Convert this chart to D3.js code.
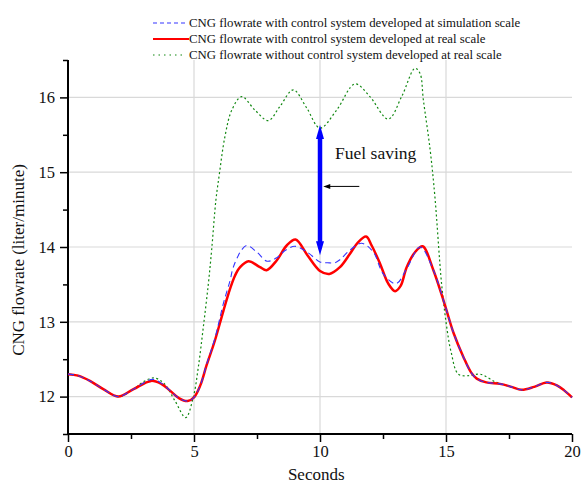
<!DOCTYPE html>
<html><head><meta charset="utf-8">
<script src="https://cdn.jsdelivr.net/npm/d3@7"></script>
<style>body{margin:0;background:#fff}svg{display:block}</style>
</head><body>
<script>
// ---- data ----
const seriesNames = [
  "CNG flowrate with control system developed at simulation scale",
  "CNG flowrate with control system developed at real scale",
  "CNG flowrate without control system developed at real scale"
];
const realT = [0,0.4,0.87,1.4,2.0,2.6,3.3,3.7,4.05,4.4,4.75,5.0,5.25,5.5,5.83,6.17,6.43,6.63,6.83,7.16,7.62,7.88,8.28,8.68,9.03,9.5,10.0,10.37,10.79,11.19,11.5,11.83,12.05,12.38,12.71,12.98,13.2,13.44,13.77,14.07,14.5,14.96,15.3,15.69,16.0,16.22,16.6,17.14,17.6,18.0,18.5,19.0,19.4,19.7,20];
const realV = [12.30,12.28,12.21,12.10,12.00,12.10,12.21,12.17,12.08,11.98,11.94,11.99,12.15,12.42,12.75,13.15,13.44,13.62,13.73,13.81,13.73,13.69,13.82,14.02,14.10,13.89,13.68,13.64,13.73,13.91,14.06,14.14,14.02,13.78,13.51,13.41,13.48,13.73,13.93,14.01,13.69,13.22,12.85,12.53,12.32,12.24,12.19,12.17,12.13,12.09,12.13,12.19,12.15,12.08,11.99];
const simT = [0,0.4,0.87,1.4,2.0,2.6,3.35,3.7,4.05,4.4,4.75,5.0,5.25,5.5,5.83,6.17,6.43,6.56,6.89,7.1,7.5,7.9,8.3,8.6,9.0,9.5,10.0,10.3,10.6,10.79,11.19,11.65,12.12,12.51,13.02,13.44,13.97,14.5,14.96,15.3,15.69,16.0,16.22,16.6,17.14,17.6,18.0,18.5,19.0,19.4,19.7,20];
const simV = [12.30,12.28,12.21,12.10,12.00,12.10,12.23,12.18,12.08,11.98,11.94,11.99,12.15,12.43,12.78,13.25,13.55,13.73,13.96,14.02,13.93,13.81,13.86,13.95,14.01,13.93,13.80,13.79,13.79,13.83,13.96,14.05,13.93,13.64,13.51,13.71,14.00,13.69,13.22,12.85,12.53,12.32,12.24,12.19,12.17,12.13,12.09,12.13,12.19,12.15,12.08,11.99];
const noCtrlT = [0,0.4,0.87,1.4,2.0,2.6,3.0,3.4,3.8,4.25,4.67,4.97,5.17,5.37,5.57,5.7,5.87,6.0,6.23,6.5,6.89,7.42,7.95,8.41,8.94,9.47,10.0,10.66,11.39,11.98,12.71,13.24,13.77,13.97,14.1,14.37,14.56,14.83,15.05,15.2,15.49,15.95,16.35,17.0,17.6,18.0,18.5,19.0,19.4,19.7,20];
const noCtrlV = [12.30,12.28,12.21,12.10,12.00,12.10,12.20,12.25,12.18,11.94,11.72,11.99,12.39,12.93,13.51,13.96,14.63,14.96,15.48,15.83,16.01,15.83,15.69,15.88,16.10,15.86,15.59,15.83,16.18,16.01,15.71,16.01,16.39,16.32,15.97,15.30,14.67,13.49,12.88,12.60,12.30,12.28,12.30,12.19,12.13,12.09,12.13,12.19,12.15,12.08,11.99];
const xTicks = [0,5,10,15,20];
const yTicks = [12,13,14,15,16];
const savingArrow = {t:10, from:13.89, to:15.63};
const pointerArrow = {y:14.81, from:11.56, to:10.13};
const savingLabel = {t:10.6, v:15.18, text:"Fuel saving"};

// ---- layout ----
const W=581,H=484;
const m={left:68,right:9,top:60,bottom:50};
const svg=d3.select("body").append("svg").attr("width",W).attr("height",H);
const x=d3.scaleLinear().domain([0,20]).range([m.left,W-m.right]);
const y=d3.scaleLinear().domain([11.5,16.5]).range([H-m.bottom,m.top]);
const font="'Liberation Serif','Times New Roman',serif";

// grid
svg.append("g").selectAll("line").data(yTicks).join("line")
  .attr("x1",x(0)).attr("x2",x(20)).attr("y1",d=>y(d)).attr("y2",d=>y(d))
  .attr("stroke","#d9d9d9").attr("stroke-width",1.2);
svg.append("g").selectAll("line").data(xTicks.filter(d=>d>0&&d<20)).join("line")
  .attr("y1",y(11.5)).attr("y2",y(16.5)).attr("x1",d=>x(d)).attr("x2",d=>x(d))
  .attr("stroke","#d9d9d9").attr("stroke-width",1.2);

// axes
const xAxis=d3.axisBottom(x).tickValues(d3.range(0,20.01,2.5)).tickSize(5)
  .tickFormat(d=>xTicks.includes(d)?d:"");
const gx=svg.append("g").attr("transform",`translate(0,${y(11.5)})`).call(xAxis);
gx.selectAll(".tick line").attr("y2",d=>xTicks.includes(d)?8:5).attr("stroke-width",1.5);
gx.select(".domain").attr("stroke-width",2).attr("d",`M${x(0)},0H${x(20)}`);
gx.selectAll("text").attr("font-family",font).attr("font-size",16.5).attr("fill","#111").attr("dy","0.9em");

const yAxis=d3.axisLeft(y).tickValues(d3.range(11.5,16.51,0.5)).tickSize(5)
  .tickFormat(d=>yTicks.includes(d)?d:"");
const gy=svg.append("g").attr("transform",`translate(${x(0)},0)`).call(yAxis);
gy.selectAll(".tick line").attr("x2",d=>yTicks.includes(d)?-8:-5).attr("stroke-width",1.5);
gy.select(".domain").attr("stroke-width",2).attr("d",`M0,${y(16.5)}V${y(11.5)}`);
gy.selectAll("text").attr("font-family",font).attr("font-size",16.5).attr("fill","#111").attr("x",-13);

svg.append("text").attr("x",x(9.85)).attr("y",H-4).attr("text-anchor","middle")
  .attr("font-family",font).attr("font-size",17).attr("fill","#111").text("Seconds");
svg.append("text").attr("transform",`translate(24,260) rotate(-90)`).attr("text-anchor","middle")
  .attr("font-family",font).attr("font-size",17).attr("fill","#111").text("CNG flowrate (liter/minute)");

// lines
const line=d3.line().x(d=>x(d[0])).y(d=>y(d[1])).curve(d3.curveCatmullRom.alpha(0.5));
const zip=(a,b)=>a.map((t,i)=>[t,b[i]]);
svg.append("path").attr("d",line(zip(noCtrlT,noCtrlV))).attr("fill","none")
  .attr("stroke","#118811").attr("stroke-width",1.2).attr("stroke-dasharray","2,2.5");
svg.append("path").attr("d",line(zip(realT,realV))).attr("fill","none")
  .attr("stroke","#ff0000").attr("stroke-width",2.5);
svg.append("path").attr("d",line(zip(simT,simV))).attr("fill","none")
  .attr("stroke","#3535ff").attr("stroke-width",1.1).attr("stroke-dasharray","6,4");

// annotation: double arrow
const ax=x(savingArrow.t), y1=y(savingArrow.from), y2=y(savingArrow.to);
svg.append("line").attr("x1",ax).attr("x2",ax).attr("y1",y1-12).attr("y2",y2+12)
  .attr("stroke","#0000ff").attr("stroke-width",4.5);
svg.append("path").attr("d",`M${ax},${y2}L${ax-4},${y2+14}L${ax+4},${y2+14}Z`).attr("fill","#0000ff");
svg.append("path").attr("d",`M${ax},${y1}L${ax-4},${y1-14}L${ax+4},${y1-14}Z`).attr("fill","#0000ff");
// pointer arrow
const py=y(pointerArrow.y), px1=x(pointerArrow.from), px2=x(pointerArrow.to);
svg.append("line").attr("x1",px1).attr("x2",px2+5).attr("y1",py).attr("y2",py).attr("stroke","#000").attr("stroke-width",1);
svg.append("path").attr("d",`M${px2},${py}L${px2+7},${py-2.5}L${px2+7},${py+2.5}Z`).attr("fill","#000");
svg.append("text").attr("x",x(savingLabel.t)).attr("y",y(savingLabel.v)).attr("font-family",font)
  .attr("font-size",17.5).attr("fill","#111").text(savingLabel.text);

// legend
const lg=svg.append("g");
const styles=[{c:"#3535ff",w:1.1,d:"4,3",x2:185},{c:"#ff0000",w:2,d:null,x2:189},{c:"#118811",w:1.2,d:"1.5,4",x2:184}];
seriesNames.forEach((n,i)=>{
  const yy=23+i*16;
  lg.append("line").attr("x1",153).attr("x2",styles[i].x2).attr("y1",yy).attr("y2",yy)
    .attr("stroke",styles[i].c).attr("stroke-width",styles[i].w).attr("stroke-dasharray",styles[i].d);
  lg.append("text").attr("x",189).attr("y",yy).attr("dy","0.35em").attr("font-family",font)
    .attr("font-size",12.8).attr("fill","#111").text(n);
});
</script>
</body></html>
